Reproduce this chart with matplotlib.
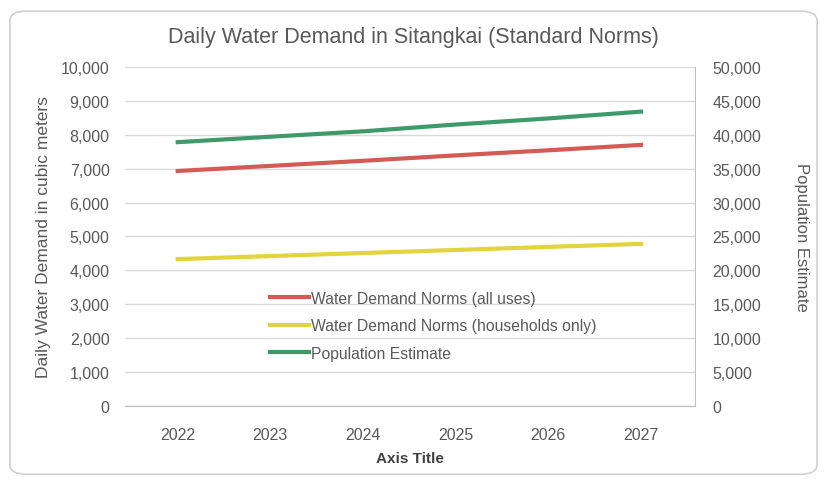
import matplotlib.pyplot as plt
from matplotlib.patches import FancyBboxPatch
from matplotlib.ticker import FuncFormatter

years = ["2022", "2023", "2024", "2025", "2026", "2027"]
demand_all = [6930, 7080, 7230, 7390, 7540, 7700]
demand_households = [4330, 4420, 4510, 4600, 4690, 4780]
population = [38900, 39700, 40500, 41500, 42400, 43400]

plt.rcParams['font.family'] = ['Liberation Sans', 'DejaVu Sans']
txt = '#595959'

fig = plt.figure(figsize=(8.27, 4.85), dpi=100)
# rounded chart frame, kept behind the axes
frame = FancyBboxPatch((0.012, 0.02), 0.976, 0.955, boxstyle="round,pad=0,rounding_size=0.02",
                       transform=fig.transFigure, facecolor='white', edgecolor='#d0d0d0', lw=1.2,
                       zorder=-10)
fig.patches.append(frame)

ax = fig.add_axes([0.151, 0.161, 0.689, 0.699])
ax2 = ax.twinx()
ax.patch.set_alpha(0)
x = range(len(years))

l1, = ax.plot(x, demand_all, color='#d45a55', lw=3, label='Water Demand Norms (all uses)')
l2, = ax.plot(x, demand_households, color='#e3d33c', lw=3, label='Water Demand Norms (households only)')
l3, = ax2.plot(x, population, color='#3f9a6b', lw=3, label='Population Estimate')

ax.set_xlim(-0.57, 5.58)
ax.set_ylim(0, 10000)
ax2.set_ylim(0, 50000)
ax.set_yticks(range(0, 10001, 1000))
ax2.set_yticks(range(0, 50001, 5000))
ax.set_xticks(list(x))
ax.set_xticklabels(years)
fmt = FuncFormatter(lambda v, p: f"{int(v):,}")
ax.yaxis.set_major_formatter(fmt)
ax2.yaxis.set_major_formatter(fmt)

ax.grid(axis='y', color='#d9d9d9', lw=1)
ax.set_axisbelow(True)
for a in (ax, ax2):
    for s in ('top', 'left'):
        a.spines[s].set_visible(False)
    a.spines['bottom'].set_color('#bfbfbf')
    a.spines['right'].set_color('#bfbfbf')
    a.tick_params(colors=txt, labelsize=11.5, length=0)
ax.spines['right'].set_visible(False)
ax.tick_params(axis='y', pad=11)
ax2.tick_params(axis='y', pad=13)
ax.tick_params(axis='x', pad=15)

ax.set_ylabel('Daily Water Demand in cubic meters', color=txt, fontsize=12.5, labelpad=7)
ax2.set_ylabel('Population Estimate', color=txt, fontsize=12, rotation=-90, labelpad=34)
ax.set_xlabel('Axis Title', color='#404040', fontsize=11, fontweight='bold', labelpad=7)
fig.suptitle('Daily Water Demand in Sitangkai (Standard Norms)', color=txt, fontsize=15.5, y=0.945)

ax.legend(handles=[l1, l2, l3], loc='upper left', bbox_to_anchor=(0.244, 0.358), frameon=False,
          fontsize=11.3, labelcolor=txt, handlelength=2.5, handletextpad=0.1, labelspacing=0.8,
          borderaxespad=0)

fig.savefig('out.png', dpi=100)
